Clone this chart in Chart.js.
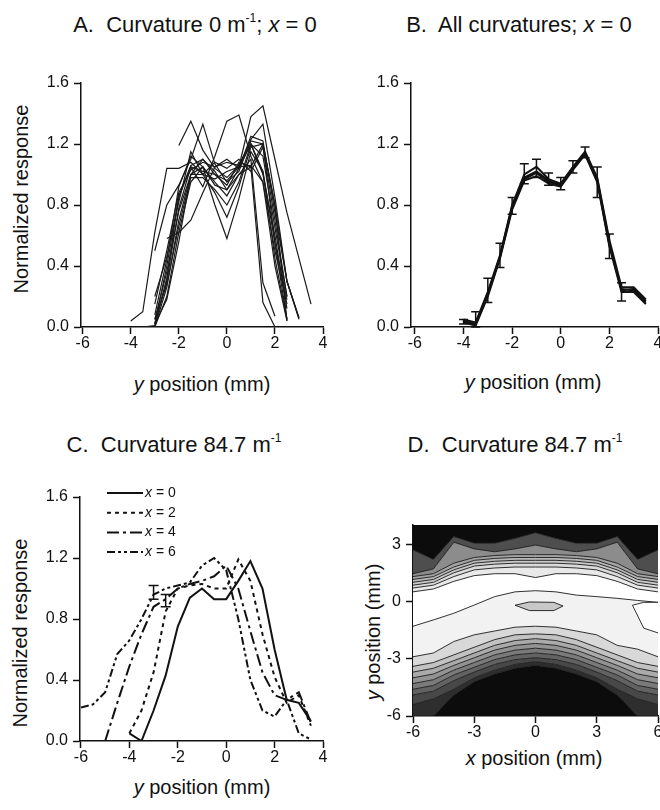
<!DOCTYPE html>
<html>
<head>
<meta charset="utf-8">
<script src="https://cdn.jsdelivr.net/npm/chart.js@4.4.1/dist/chart.umd.min.js"></script>
<style>
body{margin:0;background:#fff;width:660px;height:810px;position:relative;overflow:hidden;font-family:"Liberation Sans",Arial,sans-serif;color:#111}
canvas{position:absolute}
.t{position:absolute;white-space:nowrap;text-align:center;width:300px}
.title{font-size:22px;line-height:26px;height:26px}
.ax{font-size:20px;line-height:24px;height:24px}
.rot{transform:rotate(-90deg);transform-origin:50% 50%}
sup{font-size:12px;line-height:0;position:relative;top:-2px}
</style>
</head>
<body>
<div class="t title" style="left:45px;top:12px">A.&nbsp; Curvature 0 m<sup>-1</sup>; <i>x</i> = 0</div>
<div class="t title" style="left:369px;top:12px">B.&nbsp; All curvatures; <i>x</i> = 0</div>
<div class="t title" style="left:24px;top:432px">C.&nbsp; Curvature 84.7 m<sup>-1</sup></div>
<div class="t title" style="left:365px;top:432px">D.&nbsp; Curvature 84.7 m<sup>-1</sup></div>

<div class="t ax rot" style="left:-129px;top:187px">Normalized response</div>
<div class="t ax" style="left:52px;top:372px"><i>y</i> position (mm)</div>
<div class="t ax" style="left:383px;top:370px"><i>y</i> position (mm)</div>
<div class="t ax rot" style="left:-130px;top:621px">Normalized response</div>
<div class="t ax" style="left:52px;top:775px"><i>y</i> position (mm)</div>
<div class="t ax rot" style="left:223px;top:620px"><i>y</i> position (mm)</div>
<div class="t ax" style="left:384px;top:746px"><i>x</i> position (mm)</div>

<canvas id="cA" width="330" height="300" style="left:0;top:60px"></canvas>
<canvas id="cB" width="330" height="300" style="left:330px;top:60px"></canvas>
<canvas id="cC" width="330" height="310" style="left:0;top:460px"></canvas>
<canvas id="cD" width="330" height="300" style="left:330px;top:460px"></canvas>

<script>
const FONT='"Liberation Sans", Arial, sans-serif';
Chart.defaults.font.family=FONT;
Chart.defaults.color='#111';

// ---------- tick values / labels ----------
const xTicksAB=[-6,-4,-2,0,2,4];
const xTickLabelsAB=['-6','-4','-2','0','2','4'];
const yTicksResp=[0,0.4,0.8,1.2,1.6];
const yTickLabelsResp=['0.0','0.4','0.8','1.2','1.6'];
const xTicksD=[-6,-3,0,3,6];
const xTickLabelsD=['-6','-3','0','3','6'];
const yTicksD=[-6,-3,0,3];
const yTickLabelsD=['-6','-3','0','3'];

// ---------- panel A: single cells, curvature 0 ----------
const yPosA=[-4,-3.5,-3,-2.5,-2,-1.5,-1,-0.5,0,0.5,1,1.5,2,2.5,3,3.5];
const cellA01=[0.04,0.10,0.62,1.04,1.04,1.08,1.00,0.97,1.02,1.05,1.06,0.95,0.50,0.15,null,null];
const cellA02=[null,null,null,null,1.19,1.35,1.16,1.04,0.98,1.06,1.20,1.12,0.65,0.20,null,null];
const cellA03=[null,null,0.50,0.80,0.93,1.10,1.33,1.07,0.95,1.02,1.23,1.33,0.85,0.30,0.05,null];
const cellA04=[null,null,0.02,0.40,0.85,1.05,0.92,1.12,1.35,1.39,1.12,0.95,0.40,0.04,null,null];
const cellA05=[null,null,0.00,0.20,0.62,0.95,1.05,0.80,0.58,0.84,1.15,1.02,0.45,0.05,null,null];
const cellA06=[null,null,0.05,0.36,0.76,1.00,1.00,0.88,0.72,0.92,1.18,1.20,0.55,0.18,null,null];
const cellA07=[null,null,0.02,0.30,0.78,1.05,1.02,1.00,0.96,1.05,1.38,1.45,1.10,0.75,0.45,0.15];
const cellA08=[null,null,null,0.58,0.62,0.70,0.88,1.05,1.08,1.06,1.22,1.20,0.80,0.30,0.06,null];
const cellA09=[null,0.00,0.01,0.32,0.86,1.06,1.10,1.02,0.90,1.00,1.05,0.16,0.00,null,null,null];
const cellA10=[null,null,0.08,0.44,0.92,1.12,1.05,0.95,0.86,1.00,1.10,0.29,0.07,null,null,null];
const cellA11=[null,null,0.15,0.50,0.88,1.03,1.08,1.05,1.10,1.04,1.20,1.02,0.55,0.05,null,null];
const cellA12=[null,null,0.00,0.26,0.70,1.00,1.05,0.93,0.90,1.04,1.25,1.22,0.75,0.30,0.06,null];
const cellA13=[null,null,0.20,0.46,0.82,1.15,1.00,1.08,1.04,1.10,1.02,1.18,0.70,0.20,null,null];
const cellA14=[null,null,0.05,0.28,0.66,0.98,0.98,0.90,0.80,0.95,1.20,1.00,0.60,0.12,null,null];
const cellA15=[null,null,0.02,0.18,0.56,1.00,1.10,1.00,0.93,1.08,1.05,1.20,0.80,0.04,null,null];
const cellsA=[cellA01,cellA02,cellA03,cellA04,cellA05,cellA06,cellA07,cellA08,cellA09,cellA10,cellA11,cellA12,cellA13,cellA14,cellA15];

// ---------- panel B: mean of all curvatures ----------
const yPosB=[-4,-3.5,-3,-2.5,-2,-1.5,-1,-0.5,0,0.5,1,1.5,2,2.5,3,3.5];
const meanB1=[0.04,0.02,0.22,0.46,0.78,0.98,1.02,0.96,0.93,1.04,1.14,0.97,0.55,0.24,0.25,0.17];
const meanB2=[0.03,0.01,0.20,0.45,0.77,0.96,0.99,0.94,0.92,1.03,1.13,0.95,0.53,0.23,0.23,0.15];
const meanB3=[0.05,0.03,0.23,0.47,0.80,1.00,1.05,0.97,0.94,1.05,1.15,0.98,0.57,0.26,0.26,0.18];
const meanB4=[0.04,0.02,0.21,0.46,0.79,0.97,1.01,0.95,0.93,1.04,1.14,0.96,0.54,0.25,0.24,0.16];
const errPosB=[-4,-3.5,-3,-2.5,-2,-1.5,-1,-0.5,0,0.5,1,1.5,2,2.5];
const errLoB=[0.02,0.00,0.16,0.39,0.74,0.94,0.98,0.93,0.90,1.01,1.11,0.85,0.45,0.17];
const errHiB=[0.05,0.10,0.32,0.55,0.85,1.07,1.10,1.01,0.98,1.09,1.18,1.05,0.61,0.29];

// ---------- panel C: curvature 84.7, several x ----------
const yPosC0=[-4,-3.5,-3,-2.5,-2,-1.5,-1,-0.5,0,0.5,1,1.5,2,2.5,3,3.5];
const respC0=[0.05,0.00,0.20,0.43,0.75,0.94,1.00,0.93,0.93,1.05,1.18,1.00,0.60,0.27,0.25,0.13];
const yPosC2=[-4,-3.5,-3,-2.5,-2,-1.5,-1,-0.5,0,0.5,1,1.5,2,2.5,3,3.5];
const respC2=[0.05,0.20,0.45,0.85,1.00,1.02,1.03,1.00,1.00,1.19,1.05,0.70,0.42,0.25,0.30,0.10];
const yPosC4=[-5,-4.5,-4,-3.5,-3,-2.5,-2,-1.5,-1,-0.5,0,0.5,1,1.5,2,2.5,3,3.5];
const respC4=[0.00,0.25,0.49,0.70,0.88,0.93,1.00,1.03,1.05,1.08,1.15,1.00,0.72,0.45,0.30,0.27,0.32,0.12];
const yPosC6=[-6,-5.5,-5,-4.5,-4,-3.5,-3,-2.5,-2,-1.5,-1,-0.5,0,0.5,1,1.5,2,2.5,3,3.5];
const respC6=[0.22,0.24,0.32,0.57,0.66,0.80,0.96,1.00,1.02,1.04,1.15,1.20,1.12,0.80,0.40,0.20,0.16,0.27,0.05,0.01];
const seriesNamesC=['x = 0','x = 2','x = 4','x = 6'];
const errPosC=[-3,-2.5];
const errLoC=[0.93,0.88];
const errHiC=[1.02,0.96];

// ---------- panel D: contour map, boundaries of each grey level ----------
const xPosD=[-6,-5,-4,-3,-2,-1,0,1,2,3,4,5,6];
const edgeTop=[4,4,4,4,4,4,4,4,4,4,4,4,4];
const levD01=[2.7,2.2,3.4,3.05,3.05,3.3,3.6,3.3,3.05,3.05,3.4,2.2,2.7];
const levD02=[1.45,1.7,3.1,2.75,2.6,2.75,2.95,2.75,2.6,2.75,3.1,1.7,1.45];
const levD03=[1.3,1.45,2.0,2.3,2.4,2.45,2.45,2.45,2.4,2.3,2.0,1.45,1.3];
const levD04=[1.15,1.3,1.8,2.15,2.25,2.3,2.3,2.3,2.25,2.15,1.8,1.3,1.15];
const levD05=[1.0,1.15,1.65,2.0,2.1,2.15,2.15,2.15,2.1,2.0,1.65,1.15,1.0];
const levD06=[0.85,1.0,1.5,1.85,1.95,2.0,2.0,2.0,1.95,1.85,1.5,1.0,0.85];
const levD07=[0.7,0.85,1.3,1.65,1.75,1.8,1.8,1.8,1.75,1.65,1.3,0.85,0.7];
const levD08=[0.5,0.65,1.05,1.35,1.45,1.45,1.25,1.45,1.45,1.35,1.05,0.65,0.5];
const levD09=[-1.3,-0.97,-0.62,-0.19,0.25,0.5,0.56,0.5,0.33,0.25,0.16,0.05,-0.05];
const levD10=[-2.9,-2.7,-2.1,-1.75,-1.55,-1.35,-1.3,-1.35,-1.55,-1.75,-2.3,-2.5,-2.9];
const levD11=[-3.4,-3.2,-2.8,-2.4,-2.0,-1.75,-1.7,-1.75,-2.0,-2.4,-2.8,-3.2,-3.4];
const levD12=[-3.7,-3.5,-3.1,-2.7,-2.3,-2.05,-1.95,-2.05,-2.3,-2.7,-3.1,-3.5,-3.7];
const levD13=[-4.0,-3.8,-3.35,-2.95,-2.55,-2.3,-2.2,-2.3,-2.55,-2.95,-3.35,-3.8,-4.0];
const levD14=[-4.3,-4.1,-3.6,-3.2,-2.8,-2.55,-2.45,-2.55,-2.8,-3.2,-3.6,-4.1,-4.3];
const levD15=[-4.6,-4.4,-3.85,-3.45,-3.05,-2.8,-2.7,-2.8,-3.05,-3.45,-3.85,-4.4,-4.6];
const levD16=[-4.9,-4.7,-4.15,-3.7,-3.3,-3.05,-2.95,-3.05,-3.3,-3.7,-4.15,-4.7,-4.9];
const levD17=[-5.4,-5.1,-4.6,-4.0,-3.6,-3.3,-3.15,-3.3,-3.6,-4.0,-4.6,-5.1,-5.4];
const levD18=[-6.0,-6.0,-4.9,-4.2,-3.8,-3.5,-3.35,-3.5,-3.8,-4.2,-4.9,-6.0,-6.0];
const edgeBottom=[-6,-6,-6,-6,-6,-6,-6,-6,-6,-6,-6,-6,-6];
const levelsD=[edgeTop,levD01,levD02,levD03,levD04,levD05,levD06,levD07,levD08,levD09,levD10,levD11,levD12,levD13,levD14,levD15,levD16,levD17,levD18,edgeBottom];
const greysD=[null,'#0c0c0c','#4e4e4e','#8c8c8c','#a4a4a4','#b8b8b8','#cacaca','#dadada','#e9e9e9','#ffffff','#f2f2f2','#d8d8d8','#c2c2c2','#aaaaaa','#929292','#7a7a7a','#626262','#484848','#2e2e2e','#0c0c0c'];
// small islands
const islandXs=[-1,-0.3,0.9,1.35];
const islandTop=[-0.2,-0.03,-0.05,-0.24];
const islandBottom=[-0.2,-0.48,-0.48,-0.24];
const rightXs=[4.75,5.3,6];
const rightTop=[-0.2,-0.05,-0.05];
const rightBottom=[-0.2,-1.4,-1.65];

// ---------- helpers ----------
function pts(xs,ys){
  return xs.map((x,i)=>({x:x,y:ys[i]})).filter(p=>p.y!==null);
}

function axis(min,max,vals,labels,size,isX){
  return {
    type:'linear',min:min,max:max,
    afterBuildTicks:s=>{ s.ticks=vals.map(v=>({value:v})); },
    afterFit:s=>{
      if(isX){ s.height=size; s.paddingLeft=0; s.paddingRight=0; }
      else { s.width=size; s.paddingTop=0; s.paddingBottom=0; }
    },
    grid:{drawOnChartArea:false,drawTicks:true,tickLength:7,tickWidth:1.5,tickColor:'#111',color:'#111'},
    border:{display:true,color:'#111',width:1.5},
    ticks:{padding:isX?0:5,autoSkip:false,maxRotation:0,color:'#111',font:{size:16},
      callback:(v,i)=>labels[i]}
  };
}

function opts(pad,x,y){
  return {
    responsive:false,animation:false,events:[],
    layout:{padding:pad},
    scales:{x:x,y:y},
    plugins:{legend:{display:false},tooltip:{enabled:false}}
  };
}

function errorBars(xs,lo,hi,cap,w){
  return {
    id:'errorBars',
    afterDatasetsDraw(chart){
      const ctx=chart.ctx, sx=chart.scales.x, sy=chart.scales.y;
      ctx.save();
      ctx.strokeStyle='#111';
      ctx.lineWidth=w;
      xs.forEach((v,i)=>{
        const px=sx.getPixelForValue(v);
        const p1=sy.getPixelForValue(lo[i]);
        const p2=sy.getPixelForValue(hi[i]);
        ctx.beginPath();
        ctx.moveTo(px,p1); ctx.lineTo(px,p2);
        ctx.moveTo(px-cap,p1); ctx.lineTo(px+cap,p1);
        ctx.moveTo(px-cap,p2); ctx.lineTo(px+cap,p2);
        ctx.stroke();
      });
      ctx.restore();
    }
  };
}

// legend drawn inside the plot, with each line's own dash pattern
function lineLegend(x0,y0,dy,len){
  return {
    id:'lineLegend',
    afterDraw(chart){
      const ctx=chart.ctx;
      chart.data.datasets.forEach((ds,i)=>{
        const y=y0+i*dy;
        ctx.save();
        ctx.strokeStyle=ds.borderColor;
        ctx.lineWidth=ds.borderWidth;
        ctx.setLineDash(ds.borderDash||[]);
        ctx.beginPath(); ctx.moveTo(x0,y); ctx.lineTo(x0+len,y); ctx.stroke();
        ctx.setLineDash([]);
        ctx.fillStyle='#111';
        ctx.textBaseline='middle';
        ctx.font='italic 14px '+FONT;
        ctx.fillText(ds.label[0],x0+len+2,y);
        const w=ctx.measureText(ds.label[0]).width;
        ctx.font='14px '+FONT;
        ctx.fillText(ds.label.slice(1),x0+len+2+w,y);
        ctx.restore();
      });
    }
  };
}

// ---------- A ----------
new Chart(document.getElementById('cA'),{
  type:'line',
  data:{datasets:cellsA.map(c=>({
    data:pts(yPosA,c),borderColor:'#1a1a1a',borderWidth:1.2,pointRadius:0,fill:false,tension:0
  }))},
  options:opts({left:0,right:7,top:23,bottom:0},
    axis(-6.07,4,xTicksAB,xTickLabelsAB,33,true),
    axis(0,1.6,yTicksResp,yTickLabelsResp,81,false))
});

// ---------- B ----------
new Chart(document.getElementById('cB'),{
  type:'line',
  data:{datasets:[meanB1,meanB2,meanB3,meanB4].map(m=>({
    data:pts(yPosB,m),borderColor:'#111',borderWidth:2,pointRadius:0,fill:false,tension:0
  }))},
  options:opts({left:0,right:2,top:23,bottom:0},
    axis(-6.16,4,xTicksAB,xTickLabelsAB,33,true),
    axis(0,1.6,yTicksResp,yTickLabelsResp,81,false)),
  plugins:[errorBars(errPosB,errLoB,errHiB,4.5,1.5)]
});

// ---------- C ----------
const dashC=[[],[4,4],[12,4,3,4],[8,3,3,3,3,3]];
new Chart(document.getElementById('cC'),{
  type:'line',
  data:{datasets:[[yPosC0,respC0],[yPosC2,respC2],[yPosC4,respC4],[yPosC6,respC6]].map((s,i)=>({
    label:seriesNamesC[i],data:pts(s[0],s[1]),borderColor:'#111',borderWidth:2,borderDash:dashC[i],
    pointRadius:0,fill:false,tension:0
  }))},
  options:opts({left:0,right:7,top:37,bottom:0},
    axis(-6.04,4,xTicksAB,xTickLabelsAB,29,true),
    axis(0,1.6,yTicksResp,yTickLabelsResp,80,false)),
  plugins:[errorBars(errPosC,errLoC,errHiC,5,1.5),lineLegend(107,33,19.7,36)]
});

// ---------- D ----------
const dsD=levelsD.map((lv,i)=>({
  data:pts(xPosD,lv),
  borderColor:'#1a1a1a',
  borderWidth:(i===0||i===levelsD.length-1)?0:0.9,
  pointRadius:0,tension:0,order:1,
  fill:i===0?false:'-1',
  backgroundColor:greysD[i]||'#000'
}));
dsD.push({data:pts(islandXs,islandTop),borderColor:'#1a1a1a',borderWidth:0.9,pointRadius:0,tension:0,order:-1,fill:false});
dsD.push({data:pts(islandXs,islandBottom),borderColor:'#1a1a1a',borderWidth:0.9,pointRadius:0,tension:0,order:-1,fill:'-1',backgroundColor:'#c8c8c8'});
dsD.push({data:pts(rightXs,rightTop),borderColor:'#1a1a1a',borderWidth:0.9,pointRadius:0,tension:0,order:-1,fill:false});
dsD.push({data:pts(rightXs,rightBottom),borderColor:'#1a1a1a',borderWidth:0.9,pointRadius:0,tension:0,order:-1,fill:'-1',backgroundColor:'#ffffff'});

new Chart(document.getElementById('cD'),{
  type:'line',
  data:{datasets:dsD},
  options:opts({left:0,right:2,top:65,bottom:0},
    axis(-6,6,xTicksD,xTickLabelsD,44,true),
    axis(-6,4,yTicksD,yTickLabelsD,83,false))
});
</script>
</body>
</html>
